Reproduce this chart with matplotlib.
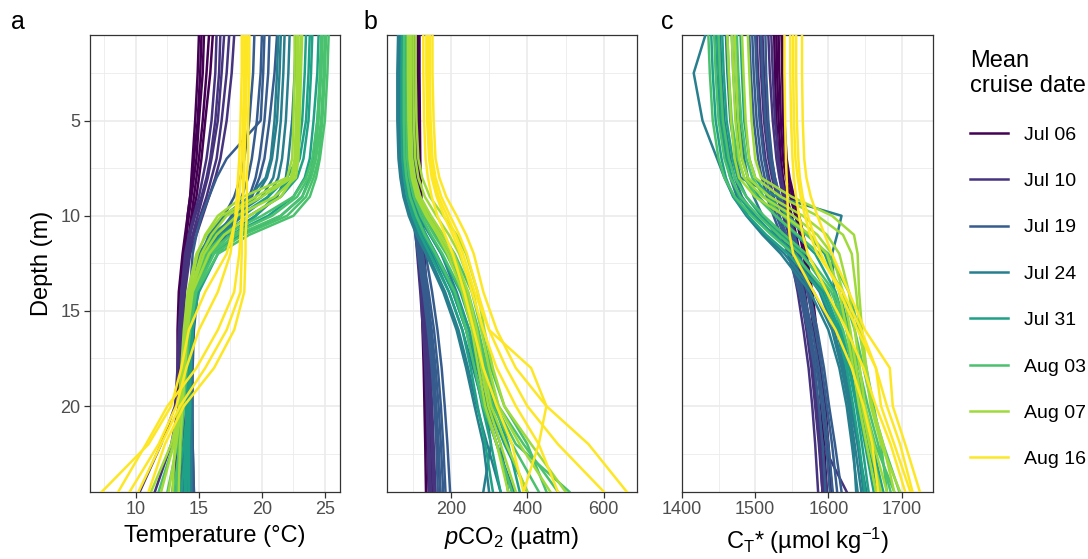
import numpy as np
import matplotlib
matplotlib.use("Agg")
import matplotlib.pyplot as plt
from matplotlib.lines import Line2D

plt.rcParams['font.family'] = ['Liberation Sans', 'DejaVu Sans']
plt.rcParams['mathtext.fontset'] = 'custom'
plt.rcParams['mathtext.rm'] = 'Liberation Sans'
plt.rcParams['mathtext.it'] = 'Liberation Sans:italic'

# depth levels (m) of every profile
depth = [0.5, 2.5, 5, 7, 8, 9, 10, 11, 12, 14, 16, 18, 20, 22, 24.5]

cruises = ["Jul 06", "Jul 10", "Jul 19", "Jul 24", "Jul 31", "Aug 03", "Aug 07", "Aug 16"]
farben = ["#440154", "#46337E", "#365C8D", "#277F8E", "#1FA187", "#4AC16D", "#9FDA3A", "#FDE725"]

# ---- temperature (°C) ----
temp_jul06 = [[15.0, 14.9, 14.7, 14.5, 14.4, 14.3, 14.1, 14.0, 13.8, 13.5, 13.4, 13.4, 13.6, 13.8, 14.0],
              [15.4, 15.3, 15.0, 14.8, 14.6, 14.4, 14.2, 14.0, 13.9, 13.6, 13.5, 13.5, 13.7, 13.9, 14.1],
              [15.8, 15.6, 15.3, 15.0, 14.8, 14.6, 14.4, 14.2, 14.0, 13.7, 13.5, 13.4, 13.5, 13.6, 13.8],
              [16.1, 15.9, 15.5, 15.2, 15.0, 14.8, 14.5, 14.3, 14.1, 13.8, 13.6, 13.5, 13.6, 13.7, 13.9],
              [15.2, 15.1, 14.9, 14.6, 14.5, 14.3, 14.1, 13.9, 13.7, 13.4, 13.3, 13.3, 13.4, 13.3, 13.2]]
temp_jul10 = [[16.4, 16.3, 16.0, 15.6, 15.3, 15.0, 14.6, 14.2, 13.9, 13.6, 13.5, 13.5, 13.6, 13.5, 13.6],
              [17.0, 16.8, 16.5, 16.0, 15.7, 15.3, 14.9, 14.5, 14.1, 13.7, 13.5, 13.5, 13.4, 12.8, 11.5],
              [17.4, 17.2, 16.8, 16.4, 16.0, 15.6, 15.1, 14.6, 14.2, 13.8, 13.6, 13.6, 13.7, 13.8, 14.0],
              [17.8, 17.6, 17.2, 16.7, 16.3, 15.8, 15.3, 14.8, 14.3, 13.9, 13.7, 13.6, 13.5, 13.3, 12.9],
              [16.7, 16.6, 16.3, 15.9, 15.6, 15.2, 14.7, 14.3, 14.0, 13.6, 13.4, 13.3, 13.1, 12.0, 10.3]]
temp_jul19 = [[19.4, 19.3, 19.0, 18.6, 18.3, 17.8, 17.0, 16.0, 15.2, 14.6, 14.4, 14.3, 14.3, 14.4, 14.4],
              [20.0, 19.9, 19.6, 19.2, 18.9, 18.4, 17.6, 16.5, 15.5, 14.7, 14.5, 14.4, 14.4, 14.5, 14.5],
              [20.6, 20.5, 20.2, 19.8, 19.5, 19.0, 18.0, 16.8, 15.7, 14.8, 14.5, 14.4, 14.4, 14.5, 14.6],
              [21.2, 21.0, 20.6, 20.2, 19.8, 19.2, 18.2, 17.0, 15.8, 14.9, 14.6, 14.5, 14.5, 14.5, 14.6],
              [20.2, 20.1, 19.9, 17.2, 16.4, 15.8, 15.2, 14.8, 14.5, 14.3, 14.2, 14.2, 14.3, 14.3, 14.4]]
temp_jul24 = [[21.3, 21.2, 21.0, 20.7, 20.3, 19.0, 17.0, 15.8, 15.2, 14.6, 14.4, 14.3, 14.3, 14.3, 14.3],
              [21.8, 21.7, 21.5, 21.2, 20.9, 20.0, 17.8, 16.3, 15.5, 14.7, 14.5, 14.4, 14.4, 14.4, 14.4],
              [22.2, 22.1, 21.9, 21.6, 21.3, 20.5, 18.5, 16.6, 15.6, 14.8, 14.5, 14.4, 14.3, 14.2, 14.1],
              [22.7, 22.6, 22.4, 22.1, 21.9, 21.2, 19.5, 17.2, 15.8, 14.9, 14.5, 14.3, 14.2, 14.0, 13.8],
              [21.5, 21.4, 21.2, 20.8, 20.4, 19.5, 18.0, 16.0, 15.0, 14.5, 14.3, 14.2, 14.1, 13.9, 13.5]]
temp_jul31 = [[23.5, 23.4, 23.2, 22.8, 22.0, 20.5, 18.2, 16.2, 15.3, 14.6, 14.4, 14.3, 14.3, 14.2, 14.2],
              [24.0, 23.9, 23.7, 23.3, 22.8, 21.5, 19.0, 16.8, 15.6, 14.7, 14.4, 14.3, 14.2, 14.1, 14.0],
              [24.5, 24.4, 24.1, 23.8, 23.4, 22.5, 20.5, 17.5, 15.8, 14.8, 14.5, 14.3, 14.2, 14.0, 13.6],
              [24.8, 24.7, 24.4, 24.1, 23.8, 23.2, 21.5, 18.3, 16.0, 14.9, 14.5, 14.3, 14.1, 13.8, 13.2],
              [23.8, 23.7, 23.5, 23.0, 22.3, 21.0, 19.5, 17.8, 16.5, 15.0, 14.3, 14.1, 14.0, 13.9, 13.9]]
temp_aug03 = [[24.7, 24.6, 24.4, 24.0, 23.5, 22.5, 20.0, 17.0, 15.5, 14.5, 14.2, 14.0, 13.8, 13.5, 13.0],
              [25.0, 24.9, 24.7, 24.3, 23.9, 23.2, 21.5, 18.0, 15.9, 14.6, 14.2, 14.0, 13.7, 13.3, 12.5],
              [25.3, 25.2, 25.0, 24.6, 24.3, 23.8, 22.5, 19.0, 16.5, 14.8, 14.3, 14.0, 13.8, 13.6, 13.3],
              [25.1, 25.0, 24.8, 24.5, 24.1, 23.5, 22.0, 18.5, 16.2, 14.7, 14.1, 13.9, 13.6, 13.0, 11.8],
              [24.8, 24.7, 24.5, 24.2, 23.7, 22.8, 20.8, 17.6, 15.7, 14.4, 14.0, 13.8, 13.6, 13.4, 13.2]]
temp_aug07 = [[22.6, 22.6, 22.5, 22.4, 22.0, 18.5, 16.5, 15.5, 14.9, 14.2, 13.9, 13.7, 13.5, 13.0, 12.0],
              [22.9, 22.9, 22.8, 22.7, 22.4, 20.0, 17.2, 16.0, 15.2, 14.3, 14.0, 13.8, 13.6, 13.2, 12.6],
              [23.2, 23.1, 23.0, 22.9, 22.7, 21.0, 18.0, 16.4, 15.4, 14.4, 14.0, 13.8, 13.5, 12.8, 11.2],
              [22.8, 22.8, 22.7, 22.6, 22.3, 19.5, 16.8, 15.6, 14.8, 14.1, 13.8, 13.6, 13.4, 13.1, 12.9],
              [23.1, 23.0, 22.9, 22.8, 22.5, 21.5, 19.0, 17.0, 15.8, 14.5, 14.1, 13.9, 13.7, 13.5, 13.4]]
temp_aug16 = [[18.4, 18.4, 18.3, 18.2, 18.1, 18.0, 17.9, 17.7, 17.5, 16.5, 15.0, 14.0, 13.2, 11.8, 9.5],
              [18.7, 18.7, 18.6, 18.6, 18.5, 18.5, 18.5, 18.4, 18.4, 18.3, 17.2, 15.5, 13.5, 12.0, 10.2],
              [19.0, 19.0, 18.9, 18.9, 18.8, 18.8, 18.8, 18.7, 18.7, 18.6, 17.8, 16.2, 13.8, 12.3, 11.0],
              [18.6, 18.6, 18.5, 18.4, 18.3, 18.2, 18.0, 17.6, 17.2, 15.5, 14.2, 13.6, 12.8, 11.0, 7.3],
              [18.8, 18.8, 18.7, 18.6, 18.6, 18.5, 18.4, 18.3, 18.2, 17.8, 16.5, 14.8, 12.5, 10.8, 8.6]]

# ---- pCO2 (µatm) ----
pco2_jul06 = [[112, 112, 113, 114, 114, 115, 116, 118, 120, 124, 128, 132, 135, 138, 142],
              [116, 116, 117, 118, 119, 120, 122, 124, 127, 132, 136, 140, 143, 146, 150],
              [109, 109, 110, 111, 112, 113, 114, 116, 119, 123, 126, 129, 131, 133, 135],
              [118, 118, 119, 120, 121, 123, 125, 128, 131, 136, 140, 144, 147, 150, 154],
              [114, 114, 115, 116, 117, 118, 120, 122, 125, 130, 134, 137, 139, 141, 145]]
pco2_jul10 = [[98, 98, 99, 100, 102, 104, 107, 110, 114, 122, 130, 136, 140, 144, 148],
              [104, 104, 105, 107, 109, 111, 114, 118, 122, 131, 139, 146, 151, 155, 160],
              [95, 95, 96, 98, 100, 102, 105, 108, 112, 120, 127, 133, 137, 140, 143],
              [108, 108, 109, 111, 113, 116, 119, 123, 128, 138, 147, 155, 160, 165, 172],
              [101, 101, 102, 104, 106, 108, 111, 115, 119, 127, 135, 141, 146, 150, 155]]
pco2_jul19 = [[88, 88, 89, 92, 95, 99, 104, 110, 117, 132, 145, 155, 162, 168, 173],
              [94, 94, 95, 98, 101, 105, 111, 118, 126, 142, 156, 166, 174, 180, 186],
              [85, 85, 86, 89, 92, 96, 101, 107, 114, 128, 140, 150, 157, 162, 166],
              [98, 98, 99, 102, 106, 111, 117, 125, 134, 151, 165, 176, 184, 191, 198],
              [91, 91, 92, 95, 98, 102, 108, 114, 121, 137, 150, 160, 168, 174, 180]]
pco2_jul24 = [[62, 60, 60, 63, 68, 76, 90, 110, 135, 180, 215, 240, 262, 285, 300],
              [70, 68, 68, 71, 77, 86, 102, 124, 150, 195, 230, 258, 285, 320, 365],
              [66, 64, 64, 67, 72, 80, 95, 115, 140, 185, 220, 245, 268, 295, 330],
              [75, 73, 73, 76, 82, 92, 110, 135, 160, 205, 240, 268, 295, 330, 350],
              [80, 78, 78, 80, 85, 95, 115, 145, 175, 215, 248, 272, 290, 305, 285]]
pco2_jul31 = [[72, 71, 71, 73, 78, 86, 100, 120, 145, 195, 230, 252, 270, 290, 310],
              [80, 79, 79, 81, 86, 95, 112, 135, 162, 212, 248, 270, 290, 320, 360],
              [86, 85, 85, 87, 92, 102, 120, 146, 175, 225, 258, 278, 300, 340, 400],
              [76, 75, 75, 77, 82, 90, 106, 128, 155, 205, 240, 262, 282, 305, 330],
              [90, 89, 89, 92, 98, 110, 130, 160, 190, 240, 268, 288, 315, 350, 380]]
pco2_aug03 = [[78, 77, 77, 79, 84, 93, 110, 132, 160, 210, 240, 262, 285, 320, 360],
              [85, 84, 84, 86, 92, 103, 122, 148, 178, 228, 258, 282, 310, 360, 430],
              [92, 91, 91, 94, 100, 112, 135, 165, 198, 245, 272, 295, 325, 390, 480],
              [88, 87, 87, 90, 96, 108, 128, 156, 188, 238, 265, 290, 318, 370, 510],
              [96, 95, 95, 98, 105, 120, 145, 178, 210, 255, 280, 305, 340, 400, 450]]
pco2_aug07 = [[88, 88, 89, 92, 98, 110, 135, 165, 192, 230, 255, 272, 290, 320, 350],
              [95, 95, 96, 99, 106, 120, 148, 180, 208, 245, 268, 285, 305, 345, 400],
              [102, 102, 103, 107, 115, 132, 162, 195, 222, 258, 280, 300, 325, 380, 460],
              [108, 108, 110, 115, 125, 145, 180, 215, 240, 270, 288, 310, 340, 410, 500],
              [92, 92, 93, 96, 102, 115, 140, 172, 200, 238, 262, 280, 298, 330, 370]]
pco2_aug16 = [[128, 128, 130, 134, 140, 150, 165, 185, 205, 235, 260, 285, 320, 360, 390],
              [136, 136, 138, 143, 150, 163, 182, 205, 225, 255, 285, 320, 370, 430, 480],
              [145, 145, 147, 152, 160, 175, 198, 222, 242, 270, 300, 345, 400, 480, 600],
              [152, 152, 155, 160, 170, 188, 215, 240, 260, 285, 320, 370, 450, 560, 660],
              [140, 140, 142, 147, 155, 168, 190, 212, 232, 262, 300, 410, 450, 430, 390]]

# ---- CT* (µmol/kg) ----
ct_jul06 = [[1526, 1527, 1529, 1532, 1535, 1540, 1546, 1552, 1557, 1565, 1572, 1578, 1583, 1588, 1592],
            [1532, 1533, 1535, 1538, 1542, 1548, 1555, 1561, 1566, 1573, 1580, 1586, 1590, 1594, 1598],
            [1536, 1537, 1538, 1541, 1545, 1551, 1558, 1564, 1569, 1576, 1583, 1589, 1594, 1598, 1603],
            [1529, 1530, 1532, 1535, 1538, 1543, 1550, 1556, 1561, 1568, 1575, 1581, 1586, 1590, 1595],
            [1538, 1539, 1540, 1543, 1547, 1553, 1560, 1566, 1570, 1578, 1584, 1590, 1596, 1600, 1605]]
ct_jul10 = [[1502, 1504, 1508, 1514, 1519, 1525, 1533, 1541, 1548, 1558, 1566, 1573, 1578, 1582, 1586],
            [1510, 1512, 1516, 1522, 1527, 1533, 1540, 1547, 1553, 1562, 1570, 1577, 1582, 1587, 1592],
            [1518, 1520, 1524, 1529, 1533, 1538, 1545, 1551, 1556, 1565, 1573, 1580, 1586, 1592, 1598],
            [1506, 1508, 1512, 1518, 1523, 1530, 1538, 1546, 1553, 1563, 1571, 1578, 1584, 1592, 1625],
            [1522, 1524, 1527, 1532, 1536, 1541, 1548, 1554, 1559, 1567, 1574, 1580, 1585, 1589, 1593]]
ct_jul19 = [[1492, 1494, 1498, 1504, 1509, 1516, 1525, 1535, 1545, 1560, 1572, 1581, 1587, 1592, 1596],
            [1500, 1502, 1506, 1512, 1517, 1524, 1533, 1543, 1552, 1566, 1578, 1587, 1594, 1600, 1606],
            [1508, 1510, 1514, 1520, 1525, 1532, 1541, 1550, 1558, 1571, 1582, 1591, 1598, 1605, 1612],
            [1496, 1498, 1502, 1508, 1513, 1520, 1529, 1539, 1548, 1563, 1575, 1584, 1591, 1597, 1602],
            [1514, 1515, 1518, 1523, 1527, 1534, 1544, 1553, 1561, 1574, 1585, 1594, 1601, 1609, 1618]]
ct_jul24 = [[1432, 1416, 1428, 1448, 1458, 1470, 1488, 1510, 1535, 1575, 1600, 1615, 1625, 1632, 1640],
            [1445, 1447, 1452, 1460, 1466, 1475, 1490, 1512, 1540, 1580, 1605, 1618, 1628, 1636, 1645],
            [1460, 1462, 1466, 1474, 1480, 1530, 1618, 1612, 1605, 1608, 1616, 1625, 1632, 1640, 1648],
            [1472, 1474, 1478, 1485, 1490, 1498, 1510, 1528, 1552, 1588, 1608, 1620, 1628, 1634, 1638],
            [1452, 1454, 1458, 1466, 1472, 1482, 1500, 1525, 1555, 1592, 1612, 1622, 1630, 1640, 1652]]
ct_jul31 = [[1440, 1442, 1446, 1454, 1460, 1470, 1490, 1515, 1545, 1590, 1612, 1625, 1634, 1642, 1650],
            [1455, 1457, 1461, 1469, 1476, 1488, 1508, 1535, 1565, 1600, 1618, 1630, 1640, 1650, 1662],
            [1468, 1470, 1474, 1482, 1490, 1505, 1528, 1556, 1582, 1610, 1625, 1636, 1645, 1655, 1668],
            [1480, 1482, 1485, 1492, 1500, 1518, 1545, 1572, 1595, 1615, 1628, 1638, 1648, 1660, 1675],
            [1448, 1450, 1454, 1462, 1468, 1478, 1498, 1525, 1555, 1595, 1615, 1628, 1638, 1646, 1655]]
ct_aug03 = [[1436, 1438, 1442, 1450, 1458, 1472, 1495, 1522, 1552, 1598, 1620, 1634, 1645, 1658, 1672],
            [1450, 1452, 1456, 1464, 1472, 1488, 1512, 1540, 1570, 1608, 1628, 1642, 1654, 1668, 1685],
            [1462, 1464, 1468, 1476, 1485, 1502, 1528, 1558, 1588, 1620, 1636, 1648, 1660, 1675, 1697],
            [1475, 1477, 1481, 1488, 1496, 1512, 1538, 1570, 1600, 1628, 1642, 1652, 1662, 1672, 1680],
            [1444, 1446, 1450, 1458, 1466, 1480, 1504, 1532, 1562, 1604, 1625, 1638, 1650, 1664, 1690]]
ct_aug07 = [[1462, 1464, 1467, 1472, 1478, 1500, 1540, 1575, 1598, 1615, 1625, 1634, 1642, 1652, 1665],
            [1472, 1474, 1477, 1482, 1490, 1520, 1565, 1598, 1615, 1628, 1636, 1643, 1650, 1662, 1680],
            [1482, 1484, 1487, 1492, 1500, 1535, 1585, 1620, 1632, 1638, 1643, 1650, 1658, 1672, 1698],
            [1490, 1492, 1495, 1500, 1508, 1550, 1605, 1635, 1640, 1642, 1646, 1652, 1660, 1675, 1690],
            [1468, 1470, 1473, 1478, 1485, 1510, 1552, 1585, 1605, 1620, 1630, 1638, 1646, 1656, 1672]]
ct_aug16 = [[1540, 1540, 1541, 1542, 1543, 1544, 1545, 1547, 1552, 1580, 1610, 1632, 1648, 1660, 1668],
            [1548, 1548, 1549, 1551, 1553, 1556, 1560, 1565, 1572, 1598, 1625, 1648, 1665, 1685, 1705],
            [1556, 1556, 1557, 1559, 1561, 1565, 1572, 1580, 1590, 1615, 1640, 1665, 1680, 1698, 1715],
            [1564, 1564, 1565, 1567, 1570, 1576, 1585, 1595, 1605, 1628, 1650, 1684, 1688, 1705, 1725],
            [1552, 1552, 1553, 1555, 1558, 1562, 1568, 1575, 1585, 1620, 1645, 1665, 1672, 1690, 1712]]

temp = [temp_jul06, temp_jul10, temp_jul19, temp_jul24, temp_jul31, temp_aug03, temp_aug07, temp_aug16]
pco2 = [pco2_jul06, pco2_jul10, pco2_jul19, pco2_jul24, pco2_jul31, pco2_aug03, pco2_aug07, pco2_aug16]
ct = [ct_jul06, ct_jul10, ct_jul19, ct_jul24, ct_jul31, ct_aug03, ct_aug07, ct_aug16]

W, H = 1088, 559
fig = plt.figure(figsize=(W / 100, H / 100), dpi=100)

ax_a = fig.add_axes([90 / W, 1 - 491.7 / H, 250 / W, 456.7 / H])
ax_b = fig.add_axes([387 / W, 1 - 491.7 / H, 250 / W, 456.7 / H])
ax_c = fig.add_axes([682 / W, 1 - 491.7 / H, 251 / W, 456.7 / H])

panelen = [
    (ax_a, temp, "Temperature (°C)", (6.35, 26.2), [10, 15, 20, 25], [7.5, 12.5, 17.5, 22.5]),
    (ax_b, pco2, r"$p\mathrm{CO_2}$ (µatm)", (33, 687), [200, 400, 600], [100, 300, 500]),
    (ax_c, ct, r"C$_\mathrm{T}$* (µmol kg$^{-1}$)", (1400, 1743), [1400, 1500, 1600, 1700], [1450, 1550, 1650]),
]

for ax, data, xlab, xl, xt, xmin in panelen:
    for k in range(len(cruises)):
        for prof in data[k]:
            ax.plot(prof, depth, color=farben[k], lw=1.8, solid_joinstyle='round', zorder=3)
    ax.set_xlim(xl)
    ax.set_ylim(24.5, 0.5)
    ax.set_xticks(xt)
    ax.set_xticks(xmin, minor=True)
    ax.set_yticks([5, 10, 15, 20])
    ax.set_yticks([2.5, 7.5, 12.5, 17.5, 22.5], minor=True)
    ax.grid(which='major', color='#EBEBEB', lw=1.2, zorder=0)
    ax.grid(which='minor', color='#EBEBEB', lw=0.6, zorder=0)
    ax.set_axisbelow(True)
    for s in ax.spines.values():
        s.set_color('#333333')
        s.set_linewidth(0.9)
    ax.tick_params(which='major', length=4, width=0.9, color='#333333', labelcolor='#4D4D4D', labelsize=13, pad=3)
    ax.tick_params(which='minor', length=0)
    ax.set_xlabel(xlab, fontsize=17, color='black', labelpad=5)

ax_a.set_ylabel("Depth (m)", fontsize=17, labelpad=5)
for ax in (ax_b, ax_c):
    ax.tick_params(axis='y', which='both', left=False, labelleft=False)

fig.text(11 / W, 1 - 29 / H, "a", fontsize=18)
fig.text(363 / W, 1 - 29 / H, "b", fontsize=18)
fig.text(661 / W, 1 - 29 / H, "c", fontsize=18)

handles = [Line2D([0], [0], color=c, lw=1.8) for c in farben]
leg = fig.legend(handles, cruises, loc='upper left', bbox_to_anchor=(962 / W, 1 - 42 / H),
                 frameon=False, fontsize=14, title="Mean\ncruise date", title_fontsize=17,
                 alignment='left', handlelength=1.95, handletextpad=0.85, labelspacing=1.48,
                 borderaxespad=0)

fig.savefig("out.png", dpi=100)
